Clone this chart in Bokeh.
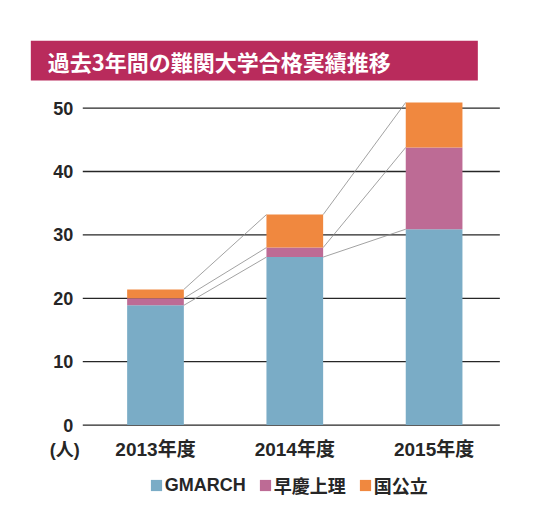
from bokeh.plotting import figure
from bokeh.models import Range1d, Legend, LegendItem, ColumnDataSource
from bokeh.core.properties import value
from bokeh.embed import file_html
from bokeh.resources import INLINE

# data
years = ["2013年度", "2014年度", "2015年度"]
series = ["GMARCH", "早慶上理", "国公立"]
gmarch = [18.9, 26.5, 30.9]
soukei = [1.1, 1.5, 12.9]
kokkou = [1.4, 5.2, 7.1]
ticks = [0, 10, 20, 30, 40, 50]
tick_labels = [str(t) for t in ticks]
title = "過去3年間の難関大学合格実績推移"
unit = "(人)"

colors = ["#7aacc6", "#bd6b95", "#f0883f"]
FONT = "Liberation Sans, Noto Sans CJK JP"
INK = "#262626"
W = 0.407

x = list(range(len(years)))
source = ColumnDataSource(data=dict(x=x, GMARCH=gmarch, 早慶上理=soukei, 国公立=kokkou))

p = figure(
    width=531,
    height=508,
    x_range=Range1d(-1.1127, 2.6992),
    y_range=Range1d(-13.15, 66.97),
    x_axis_type=None,
    y_axis_type=None,
    min_border=0,
    toolbar_location=None,
    output_backend="svg",
    outline_line_color=None,
)

# title banner
p.quad(left=-0.895, right=2.314, bottom=54.35, top=60.62, fill_color="#b92b5c", line_color=None)
p.text(x=-0.773, y=57.4, text=[title], text_color="white", text_font=value("Noto Sans CJK JP"),
       text_font_style="bold", text_font_size="22px", text_align="left", text_baseline="middle")

# grid lines + tick labels
p.segment(x0=-0.522, x1=2.472, y0=ticks, y1=ticks, line_color=INK, line_width=1.3)
p.text(x=-0.59, y=ticks, text=tick_labels, text_color=INK, text_font=value(FONT),
       text_font_style="bold", text_font_size="18px", text_align="right", text_baseline="middle")

# connector lines between the tops of the stacked segments
cum = [0, 0, 0]
for vals in (gmarch, soukei, kokkou):
    cum = [c + v for c, v in zip(cum, vals)]
    p.segment(x0=[i + W / 2 for i in x[:-1]], x1=[i + 1 - W / 2 for i in x[:-1]],
              y0=cum[:-1], y1=cum[1:], line_color="#8a8a8a", line_width=0.8)

# stacked bars
bars = p.vbar_stack(series, x="x", width=W, color=colors, line_color=None, source=source)

# category labels
p.text(x=x, y=-3.9, text=years, text_color=INK, text_font=value(FONT),
       text_font_style="bold", text_font_size="19px", text_align="center", text_baseline="middle")
p.text(x=-0.651, y=-3.9, text=[unit], text_color=INK, text_font=value(FONT),
       text_font_style="bold", text_font_size="18px", text_align="center", text_baseline="middle")

legend = Legend(
    items=[LegendItem(label=s, renderers=[r]) for s, r in zip(series, bars)],
    orientation="horizontal",
    location=(148.7, 10),
    padding=0,
    margin=0,
    spacing=12,
    label_standoff=2,
    glyph_width=14,
    glyph_height=14,
    label_height=14,
    border_line_color=None,
    background_fill_alpha=0,
    label_text_font=FONT,
    label_text_font_style="bold",
    label_text_font_size="18px",
    label_text_color=INK,
)
p.add_layout(legend)

open("out.html", "w").write(file_html(p, INLINE))
